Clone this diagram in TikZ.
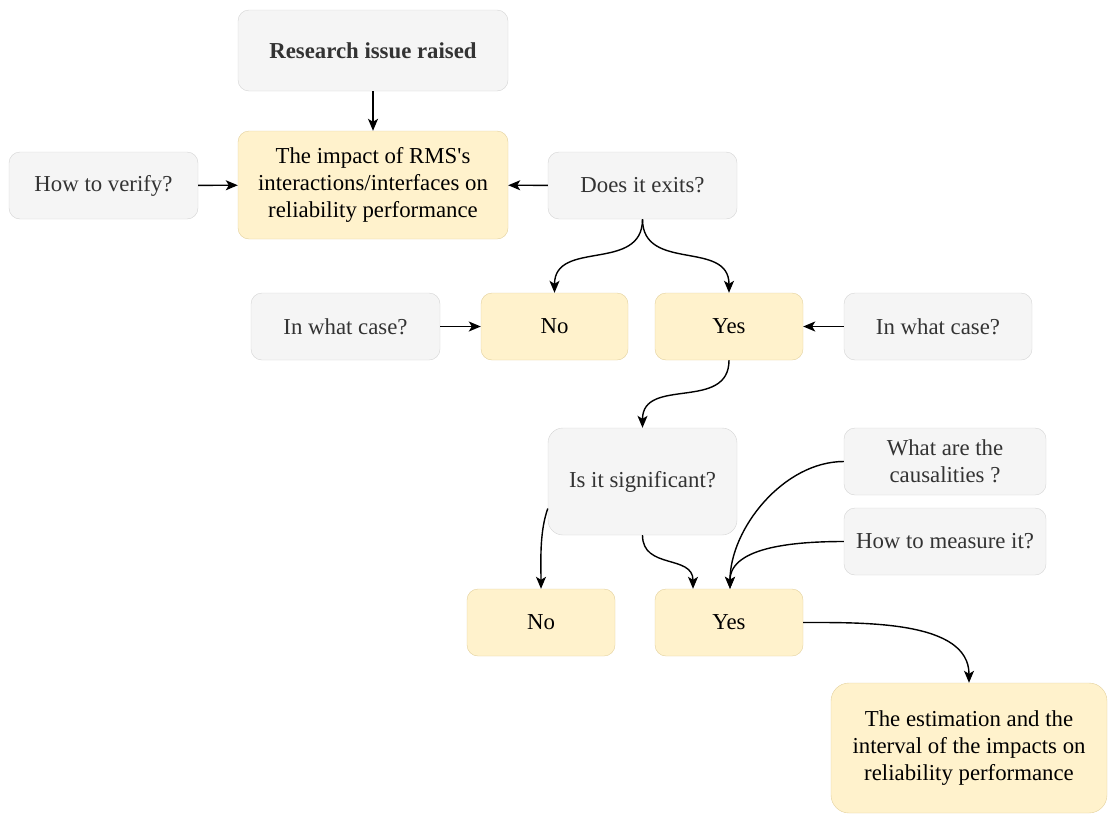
\documentclass[tikz,border=0pt]{standalone}
\usepackage{fontspec}
\setmainfont{Liberation Serif}
\usetikzlibrary{arrows.meta}
\definecolor{greyfill}{HTML}{F5F5F5}
\definecolor{greyline}{HTML}{D4D4D4}
\definecolor{greytext}{HTML}{333333}
\definecolor{yelfill}{HTML}{FFF2CC}
\definecolor{yelline}{HTML}{E3D09C}

\begin{document}
\begin{tikzpicture}[x=1pt, y=-1pt,
    greybox/.style={draw=greyline, fill=greyfill, rounded corners=11pt, text=greytext,
      align=center, inner sep=0pt, font=\fontsize{22.8}{27}\selectfont},
    yelbox/.style={draw=yelline, fill=yelfill, rounded corners=11pt, text=black,
      align=center, inner sep=0pt, font=\fontsize{22.8}{27}\selectfont},
    link/.style={-{Stealth[length=12pt,width=10pt,inset=3pt]}, line width=1.4pt}]
    \useasboundingbox (0,0) rectangle (1108,814);
    % top part
    \node (issue) at (373,50.5) [greybox, minimum width=270pt, minimum height=81pt] {\textbf{Research issue raised}};
    \node (impact) at (373,185) [yelbox, minimum width=270pt, minimum height=108pt] {The impact of RMS\textquotesingle s\\interactions/interfaces on\\reliability performance};
    \node (verify) at (103.5,185.5) [greybox, minimum width=189pt, minimum height=67pt] {How to verify?};
    \node (exists) at (642.5,185.5) [greybox, minimum width=189pt, minimum height=67pt] {Does it exits?};
    % first answer
    \node (caseL) at (345.5,326.5) [greybox, minimum width=189pt, minimum height=67pt] {In what case?};
    \node (noA) at (554.5,326.5) [yelbox, minimum width=147pt, minimum height=67pt] {No};
    \node (yesA) at (729,326.5) [yelbox, minimum width=148pt, minimum height=67pt] {Yes};
    \node (caseR) at (938,326.5) [greybox, minimum width=188pt, minimum height=67pt] {In what case?};
    % second answer
    \node (signif) at (642.5,481.5) [greybox, rounded corners=15pt, minimum width=189pt, minimum height=107pt] {Is it significant?};
    \node (causes) at (945,461.5) [greybox, minimum width=202pt, minimum height=67pt] {What are the\\causalities ?};
    \node (measure) at (945,541.5) [greybox, minimum width=202pt, minimum height=67pt] {How to measure it?};
    \node (noB) at (541,622.5) [yelbox, minimum width=148pt, minimum height=67pt] {No};
    \node (yesB) at (729,622.5) [yelbox, minimum width=148pt, minimum height=67pt] {Yes};
    \node (estim) at (969,748) [yelbox, rounded corners=18pt, minimum width=276pt, minimum height=130pt] {The estimation and the\\interval of the impacts on\\reliability performance};

    \draw [link] (issue) -- (impact);
    \draw [link] (verify) -- (impact);
    \draw [link] (exists) -- (impact);
    \draw [link] (exists.south) to[out=-90, in=90, looseness=1.2] (noA.north);
    \draw [link] (exists.south) to[out=-90, in=90, looseness=1.2] (yesA.north);
    \draw [link] (caseL) -- (noA);
    \draw [link] (caseR) -- (yesA);
    \draw [link] (yesA.south) to[out=-90, in=90, looseness=1.2] (signif.north);
    \draw [link] ([yshift=-27pt]signif.west) to[out=250, in=90, looseness=0.8] (noB.north);
    \draw [link] (signif.south) to[out=-90, in=90, looseness=1.2] ([xshift=-36pt]yesB.north);
    \draw [link] (causes.west) to[out=180, in=90, looseness=0.9] ([xshift=1pt]yesB.north);
    \draw [link] (measure.west) to[out=180, in=90, looseness=0.9] ([xshift=1pt]yesB.north);
    \draw [link] (yesB.east) to[out=0, in=90, looseness=0.9] (estim.north);
\end{tikzpicture}
\end{document}
